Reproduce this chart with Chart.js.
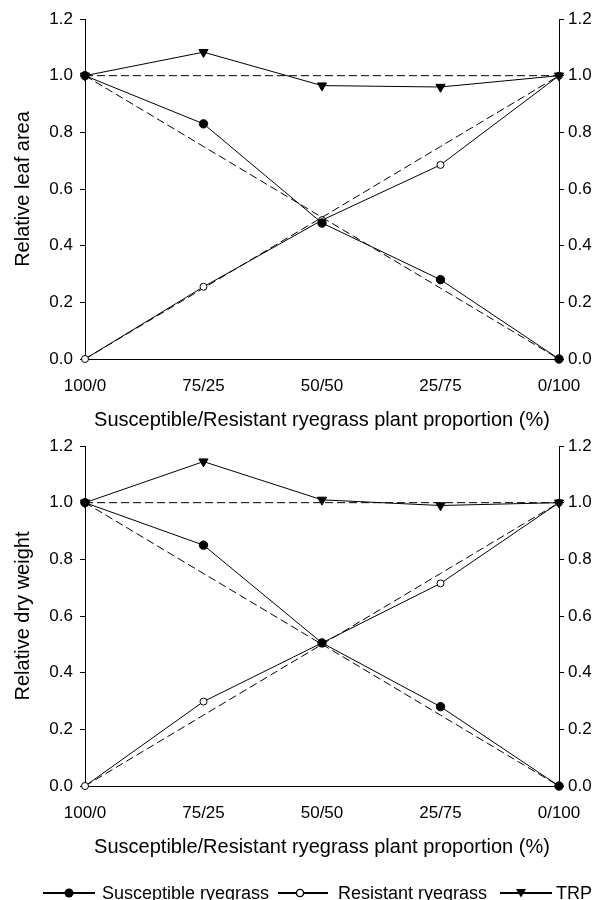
<!DOCTYPE html>
<html>
<head>
<meta charset="utf-8">
<script src="https://cdn.jsdelivr.net/npm/chart.js@4/dist/chart.umd.min.js"></script>
<style>
html,body{margin:0;padding:0;background:#fff;width:604px;height:900px;overflow:hidden;font-family:"Liberation Sans",Arial,sans-serif;}
.wrap{position:absolute;left:0;width:604px;height:440px;}
#w1{top:0;}
#w2{top:427px;}
#legend{position:absolute;left:0;top:860px;width:604px;height:40px;}
#legend svg{position:absolute;left:0;top:0;}
#legend span{position:absolute;top:23px;font-size:18px;line-height:20px;color:#000;white-space:nowrap;}
</style>
</head>
<body>
<div class="wrap" id="w1"><canvas id="c1" width="604" height="440"></canvas></div>
<div class="wrap" id="w2"><canvas id="c2" width="604" height="440"></canvas></div>
<div id="legend">
  <svg width="604" height="40">
    <line x1="43" y1="33" x2="95" y2="33" stroke="#000" stroke-width="2"/>
    <circle cx="69" cy="33" r="4.5" fill="#000"/>
    <line x1="278" y1="33" x2="328" y2="33" stroke="#000" stroke-width="2"/>
    <circle cx="300" cy="33" r="3.6" fill="#fff" stroke="#000" stroke-width="1.4"/>
    <line x1="500" y1="33" x2="552" y2="33" stroke="#000" stroke-width="2"/>
    <polygon points="516,29 526,29 521,37.5" fill="#000"/>
  </svg>
  <span id="l1" style="left:102px"></span>
  <span id="l2" style="left:338px"></span>
  <span id="l3" style="left:556px"></span>
</div>
<script>
// ---- data ----
const categories = ['100/0', '75/25', '50/50', '25/75', '0/100'];
const seriesNames = ['Susceptible ryegrass', 'Resistant ryegrass', 'TRP'];

const leafSusceptible = [1.0, 0.83, 0.48, 0.28, 0.0];
const leafResistant   = [0.0, 0.255, 0.49, 0.685, 1.0];
const leafTRP         = [1.0, 1.083, 0.965, 0.96, 1.0];

const drySusceptible  = [1.0, 0.85, 0.505, 0.28, 0.0];
const dryResistant    = [0.0, 0.298, 0.505, 0.715, 1.0];
const dryTRP          = [1.0, 1.145, 1.01, 0.99, 1.0];

const expectedSusceptible = [1.0, 0.75, 0.5, 0.25, 0.0];
const expectedResistant   = [0.0, 0.25, 0.5, 0.75, 1.0];
const expectedTRP         = [1.0, 1.0, 1.0, 1.0, 1.0];

const yMin = 0, yMax = 1.2, yStep = 0.2;
const xTitle = 'Susceptible/Resistant ryegrass plant proportion (%)';
const yTitleTop = 'Relative leaf area';
const yTitleBottom = 'Relative dry weight';

// ---- legend text ----
document.getElementById('l1').textContent = seriesNames[0];
document.getElementById('l2').textContent = seriesNames[1];
document.getElementById('l3').textContent = seriesNames[2];

// ---- chart ----
const FAMILY = '"Liberation Sans", Arial, sans-serif';
const tickFont = {family: FAMILY, size: 17};
const titleFont = {family: FAMILY, size: 20};

function solid(label, data, style) {
  return Object.assign({
    label: label, data: data, borderColor: '#000', borderWidth: 1,
    pointBorderColor: '#000', pointBorderWidth: 1, tension: 0, clip: false,
    yAxisID: 'y', fill: false
  }, style);
}
function dashed(label, data) {
  return {label: label, data: data, borderColor: '#000', borderWidth: 1,
    borderDash: [8, 4], pointRadius: 0, tension: 0, clip: false, yAxisID: 'y', fill: false};
}

function yAxis(position, withTitle, title) {
  return {
    position: position, min: yMin, max: yMax,
    ticks: {stepSize: yStep, color: '#000', font: tickFont, padding: position === 'left' ? 7 : 4,
      callback: v => Number(v).toFixed(1)},
    grid: {display: true, drawOnChartArea: false, drawTicks: true, tickLength: 5, color: '#000', lineWidth: 1},
    border: {display: true, color: '#000', width: 1},
    title: {display: withTitle, text: title, color: '#000', font: titleFont, padding: {top: 11, bottom: 0}},
    afterFit: s => { s.width = position === 'left' ? 85 : 45; }
  };
}

function makeChart(id, s, r, t, yTitle) {
  return new Chart(document.getElementById(id), {
    type: 'line',
    data: {
      labels: categories,
      datasets: [
        solid(seriesNames[0], s, {pointStyle: 'circle', pointRadius: 4.2, pointBackgroundColor: '#000'}),
        solid(seriesNames[2], t, {pointStyle: 'triangle', pointRotation: 180, pointRadius: 5.3, pointBackgroundColor: '#000'}),
        solid(seriesNames[1], r, {pointStyle: 'circle', pointRadius: 3.5, pointBackgroundColor: '#fff'}),
        dashed('Expected susceptible', expectedSusceptible),
        dashed('Expected resistant', expectedResistant),
        dashed('Expected TRP', expectedTRP)
      ]
    },
    options: {
      responsive: false, maintainAspectRatio: false, animation: false, events: [],
      layout: {padding: {top: 19, left: 0, right: 0, bottom: 0}},
      plugins: {legend: {display: false}, tooltip: {enabled: false}},
      scales: {
        x: {
          type: 'category', offset: false,
          grid: {display: true, drawOnChartArea: false, drawTicks: false},
          border: {display: true, color: '#000', width: 1},
          ticks: {color: '#000', font: tickFont, padding: 17, maxRotation: 0, autoSkip: false},
          title: {display: true, text: xTitle, color: '#000', font: titleFont, padding: {top: 0, bottom: 8}},
          afterFit: sc => { sc.height = 81; }
        },
        y: yAxis('left', true, yTitle),
        y2: yAxis('right', false, '')
      }
    }
  });
}

makeChart('c1', leafSusceptible, leafResistant, leafTRP, yTitleTop);
makeChart('c2', drySusceptible, dryResistant, dryTRP, yTitleBottom);
</script>
</body>
</html>
